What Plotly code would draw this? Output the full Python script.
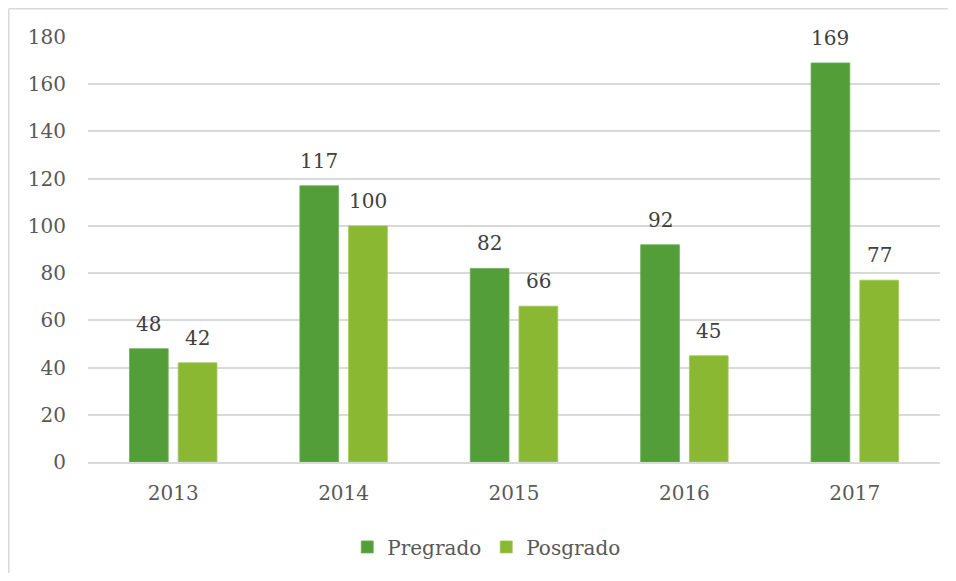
import plotly.graph_objects as go

years = ["2013", "2014", "2015", "2016", "2017"]
pregrado = [48, 117, 82, 92, 169]
posgrado = [42, 100, 66, 45, 77]
y_ticks = [0, 20, 40, 60, 80, 100, 120, 140, 160, 180]

FONT = "DejaVu Serif"
FS = 20
TXT = "#595959"
LBL = "#404040"
BORDER = "#D9D9D9"

fig = go.Figure()
fig.add_trace(go.Bar(name="Pregrado", x=years, y=pregrado, marker_color="#549E39",
                     marker_line=dict(color="#6CAE55", width=0.8)))
fig.add_trace(go.Bar(name="Posgrado", x=years, y=posgrado, marker_color="#8AB833",
                     marker_line=dict(color="#A0C75A", width=0.8)))

annotations = []
for series, shift in ((pregrado, -24.35), (posgrado, 24.35)):
    for i, v in enumerate(series):
        annotations.append(dict(x=i, y=v, xref="x", yref="y", text=str(v),
                                showarrow=False, xshift=shift, yshift=11,
                                yanchor="bottom", xanchor="center",
                                font=dict(family=FONT, size=FS, color=LBL)))

fig.update_layout(
    width=940, height=565,
    margin=dict(l=80, r=8, t=29, b=110),
    paper_bgcolor="white", plot_bgcolor="white",
    barmode="group", bargap=0.428, bargroupgap=0.205,
    font=dict(family=FONT, size=FS, color=TXT),
    showlegend=True,
    legend=dict(orientation="h", x=0.468, xanchor="center", y=-0.197, yanchor="middle",
                font=dict(family=FONT, size=FS, color=TXT), itemwidth=30),
    xaxis=dict(type="category", categoryorder="array", categoryarray=years,
               range=[-0.5, len(years) - 0.5],
               showgrid=False, showline=True, linecolor=BORDER, linewidth=1.5,
               ticks="", ticklabelstandoff=12,
               tickfont=dict(family=FONT, size=FS, color=TXT)),
    yaxis=dict(range=[0, 180], tickvals=y_ticks, showgrid=True, gridcolor=BORDER,
               gridwidth=1.5, zeroline=False, showline=False, ticks="",
               ticklabelstandoff=21, tickfont=dict(family=FONT, size=FS, color=TXT)),
    annotations=annotations,
    shapes=[
        dict(type="line", xref="paper", yref="paper", x0=-0.093, x1=1.2,
             y0=1.0663, y1=1.0663, line=dict(color=BORDER, width=1.5), layer="below"),
        dict(type="line", xref="paper", yref="paper", x0=-0.093, x1=-0.093,
             y0=-0.4, y1=1.0663, line=dict(color=BORDER, width=1.5), layer="below"),
    ],
)

fig.write_html("out.html")
